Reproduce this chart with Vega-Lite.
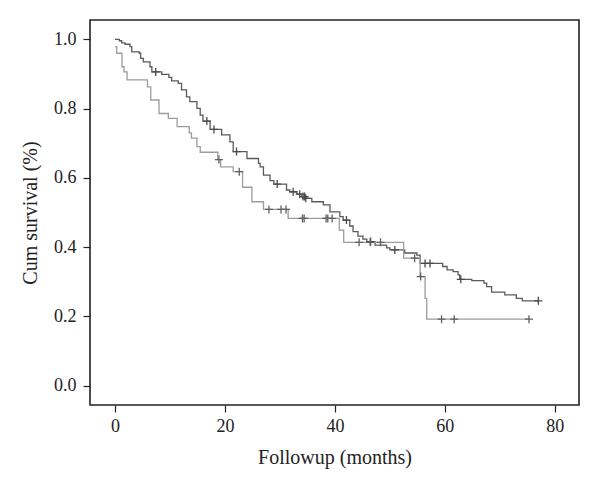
{
  "$schema": "https://vega.github.io/schema/vega-lite/v6.json",
  "width": 489,
  "height": 385,
  "autosize": {"type": "none"},
  "padding": {"left": 90, "top": 20, "right": 21, "bottom": 88},
  "background": "white",
  "config": {
    "view": {"stroke": "#222222", "strokeWidth": 1.6},
    "axis": {
      "labelFont": "Liberation Serif",
      "titleFont": "Liberation Serif",
      "labelFontSize": 18,
      "titleFontSize": 20,
      "titleFontWeight": "normal",
      "labelColor": "#222222",
      "titleColor": "#222222",
      "tickColor": "#222222",
      "tickSize": 7,
      "tickWidth": 1.2,
      "domain": false,
      "grid": false
    }
  },
  "data": {
    "values": [
      {"g": "A", "t": 0, "s": 1.0, "c": 0},
      {"g": "A", "t": 0.78, "s": 0.996, "c": 0},
      {"g": "A", "t": 1.22, "s": 0.99, "c": 0},
      {"g": "A", "t": 1.82, "s": 0.986, "c": 0},
      {"g": "A", "t": 2.73, "s": 0.979, "c": 0},
      {"g": "A", "t": 3.04, "s": 0.964, "c": 0},
      {"g": "A", "t": 4.42, "s": 0.96, "c": 0},
      {"g": "A", "t": 4.67, "s": 0.945, "c": 0},
      {"g": "A", "t": 5.15, "s": 0.935, "c": 0},
      {"g": "A", "t": 6.36, "s": 0.921, "c": 0},
      {"g": "A", "t": 6.7, "s": 0.906, "c": 0},
      {"g": "A", "t": 7.4, "s": 0.906, "c": 1},
      {"g": "A", "t": 8.5, "s": 0.899, "c": 0},
      {"g": "A", "t": 9.8, "s": 0.89, "c": 0},
      {"g": "A", "t": 10.3, "s": 0.88, "c": 0},
      {"g": "A", "t": 11.5, "s": 0.873, "c": 0},
      {"g": "A", "t": 12.1, "s": 0.854, "c": 0},
      {"g": "A", "t": 13.0, "s": 0.834, "c": 0},
      {"g": "A", "t": 13.6, "s": 0.82, "c": 0},
      {"g": "A", "t": 14.9, "s": 0.801, "c": 0},
      {"g": "A", "t": 15.5, "s": 0.781, "c": 0},
      {"g": "A", "t": 16.0, "s": 0.764, "c": 0},
      {"g": "A", "t": 16.7, "s": 0.764, "c": 1},
      {"g": "A", "t": 17.3, "s": 0.74, "c": 0},
      {"g": "A", "t": 18.0, "s": 0.74, "c": 1},
      {"g": "A", "t": 19.4, "s": 0.724, "c": 0},
      {"g": "A", "t": 20.9, "s": 0.704, "c": 0},
      {"g": "A", "t": 21.5, "s": 0.676, "c": 0},
      {"g": "A", "t": 22.1, "s": 0.676, "c": 1},
      {"g": "A", "t": 24.0, "s": 0.656, "c": 0},
      {"g": "A", "t": 26.1, "s": 0.642, "c": 0},
      {"g": "A", "t": 26.4, "s": 0.632, "c": 0},
      {"g": "A", "t": 27.0, "s": 0.608, "c": 0},
      {"g": "A", "t": 28.2, "s": 0.592, "c": 0},
      {"g": "A", "t": 28.9, "s": 0.582, "c": 0},
      {"g": "A", "t": 29.5, "s": 0.582, "c": 1},
      {"g": "A", "t": 31.2, "s": 0.565, "c": 0},
      {"g": "A", "t": 31.8, "s": 0.56, "c": 0},
      {"g": "A", "t": 32.4, "s": 0.56, "c": 1},
      {"g": "A", "t": 33.1, "s": 0.553, "c": 0},
      {"g": "A", "t": 33.6, "s": 0.553, "c": 1},
      {"g": "A", "t": 34.0, "s": 0.546, "c": 0},
      {"g": "A", "t": 34.2, "s": 0.546, "c": 1},
      {"g": "A", "t": 34.5, "s": 0.546, "c": 1},
      {"g": "A", "t": 34.7, "s": 0.541, "c": 1},
      {"g": "A", "t": 35.8, "s": 0.531, "c": 0},
      {"g": "A", "t": 37.9, "s": 0.522, "c": 0},
      {"g": "A", "t": 39.1, "s": 0.502, "c": 0},
      {"g": "A", "t": 40.9, "s": 0.488, "c": 0},
      {"g": "A", "t": 41.5, "s": 0.478, "c": 0},
      {"g": "A", "t": 42.1, "s": 0.478, "c": 1},
      {"g": "A", "t": 42.7, "s": 0.461, "c": 0},
      {"g": "A", "t": 43.3, "s": 0.445, "c": 0},
      {"g": "A", "t": 44.2, "s": 0.432, "c": 0},
      {"g": "A", "t": 45.1, "s": 0.423, "c": 0},
      {"g": "A", "t": 45.8, "s": 0.416, "c": 0},
      {"g": "A", "t": 46.5, "s": 0.416, "c": 1},
      {"g": "A", "t": 47.3, "s": 0.406, "c": 0},
      {"g": "A", "t": 49.4, "s": 0.398, "c": 0},
      {"g": "A", "t": 50.0, "s": 0.392, "c": 0},
      {"g": "A", "t": 50.9, "s": 0.392, "c": 1},
      {"g": "A", "t": 52.7, "s": 0.383, "c": 0},
      {"g": "A", "t": 54.9, "s": 0.377, "c": 0},
      {"g": "A", "t": 55.5, "s": 0.353, "c": 0},
      {"g": "A", "t": 56.4, "s": 0.353, "c": 1},
      {"g": "A", "t": 57.3, "s": 0.353, "c": 1},
      {"g": "A", "t": 59.6, "s": 0.344, "c": 0},
      {"g": "A", "t": 60.4, "s": 0.334, "c": 0},
      {"g": "A", "t": 61.5, "s": 0.329, "c": 0},
      {"g": "A", "t": 62.4, "s": 0.32, "c": 0},
      {"g": "A", "t": 62.7, "s": 0.307, "c": 0},
      {"g": "A", "t": 62.9, "s": 0.307, "c": 1},
      {"g": "A", "t": 64.9, "s": 0.303, "c": 0},
      {"g": "A", "t": 67.1, "s": 0.296, "c": 0},
      {"g": "A", "t": 67.6, "s": 0.286, "c": 0},
      {"g": "A", "t": 68.5, "s": 0.27, "c": 0},
      {"g": "A", "t": 70.9, "s": 0.262, "c": 0},
      {"g": "A", "t": 73.0, "s": 0.252, "c": 0},
      {"g": "A", "t": 74.1, "s": 0.245, "c": 0},
      {"g": "A", "t": 77.0, "s": 0.245, "c": 1},
      {"g": "B", "t": 0, "s": 0.979, "c": 0},
      {"g": "B", "t": 0.3, "s": 0.96, "c": 0},
      {"g": "B", "t": 1.27, "s": 0.921, "c": 0},
      {"g": "B", "t": 1.64, "s": 0.906, "c": 0},
      {"g": "B", "t": 2.2, "s": 0.883, "c": 0},
      {"g": "B", "t": 5.9, "s": 0.863, "c": 0},
      {"g": "B", "t": 6.5, "s": 0.825, "c": 0},
      {"g": "B", "t": 8.0, "s": 0.786, "c": 0},
      {"g": "B", "t": 9.7, "s": 0.772, "c": 0},
      {"g": "B", "t": 11.3, "s": 0.748, "c": 0},
      {"g": "B", "t": 13.5, "s": 0.73, "c": 0},
      {"g": "B", "t": 13.9, "s": 0.715, "c": 0},
      {"g": "B", "t": 14.9, "s": 0.69, "c": 0},
      {"g": "B", "t": 15.5, "s": 0.674, "c": 0},
      {"g": "B", "t": 18.7, "s": 0.653, "c": 0},
      {"g": "B", "t": 18.9, "s": 0.653, "c": 1},
      {"g": "B", "t": 19.2, "s": 0.632, "c": 0},
      {"g": "B", "t": 21.5, "s": 0.618, "c": 0},
      {"g": "B", "t": 22.6, "s": 0.618, "c": 1},
      {"g": "B", "t": 23.2, "s": 0.573, "c": 0},
      {"g": "B", "t": 24.9, "s": 0.531, "c": 0},
      {"g": "B", "t": 27.0, "s": 0.509, "c": 0},
      {"g": "B", "t": 28.0, "s": 0.509, "c": 1},
      {"g": "B", "t": 30.2, "s": 0.509, "c": 1},
      {"g": "B", "t": 31.1, "s": 0.509, "c": 1},
      {"g": "B", "t": 31.5, "s": 0.483, "c": 0},
      {"g": "B", "t": 34.1, "s": 0.483, "c": 1},
      {"g": "B", "t": 34.4, "s": 0.483, "c": 1},
      {"g": "B", "t": 38.4, "s": 0.483, "c": 1},
      {"g": "B", "t": 38.7, "s": 0.483, "c": 1},
      {"g": "B", "t": 39.5, "s": 0.483, "c": 1},
      {"g": "B", "t": 40.8, "s": 0.449, "c": 0},
      {"g": "B", "t": 41.6, "s": 0.414, "c": 0},
      {"g": "B", "t": 44.4, "s": 0.414, "c": 1},
      {"g": "B", "t": 46.4, "s": 0.414, "c": 1},
      {"g": "B", "t": 48.3, "s": 0.414, "c": 1},
      {"g": "B", "t": 52.5, "s": 0.368, "c": 0},
      {"g": "B", "t": 54.5, "s": 0.368, "c": 1},
      {"g": "B", "t": 55.5, "s": 0.315, "c": 0},
      {"g": "B", "t": 55.6, "s": 0.315, "c": 1},
      {"g": "B", "t": 56.4, "s": 0.252, "c": 0},
      {"g": "B", "t": 56.7, "s": 0.192, "c": 0},
      {"g": "B", "t": 59.4, "s": 0.192, "c": 1},
      {"g": "B", "t": 61.7, "s": 0.192, "c": 1},
      {"g": "B", "t": 75.3, "s": 0.192, "c": 1}
    ]
  },
  "encoding": {
    "x": {
      "field": "t",
      "type": "quantitative",
      "scale": {"domain": [-4.55, 84.4], "nice": false, "zero": false},
      "axis": {"values": [0, 20, 40, 60, 80], "title": "Followup (months)", "labelPadding": 5, "titleY": 58, "titleBaseline": "alphabetic"}
    },
    "y": {
      "field": "s",
      "type": "quantitative",
      "scale": {"domain": [-0.056, 1.056], "nice": false, "zero": false},
      "axis": {"values": [0, 0.2, 0.4, 0.6, 0.8, 1.0], "format": ".1f", "title": "Cum survival (%)", "labelPadding": 7, "titleX": -60, "titleY": 192.5, "titleBaseline": "middle", "titleAlign": "center", "titleAngle": 270}
    },
    "color": {
      "field": "g",
      "type": "nominal",
      "scale": {"domain": ["A", "B"], "range": ["#5a5a5a", "#9c9c9c"]},
      "legend": null
    }
  },
  "layer": [
    {
      "mark": {"type": "line", "interpolate": "step-after", "strokeWidth": 1.3},
      "encoding": {"detail": {"field": "g"}}
    },
    {
      "transform": [{"filter": "datum.c == 1"}],
      "mark": {"type": "point", "shape": "M-1,0H1M0,-1V1", "size": 64, "filled": false, "strokeWidth": 1.3, "opacity": 1},
      "encoding": {
        "stroke": {
          "field": "g",
          "type": "nominal",
          "scale": {"domain": ["A", "B"], "range": ["#4a4a4a", "#606060"]},
          "legend": null
        }
      }
    }
  ]
}
